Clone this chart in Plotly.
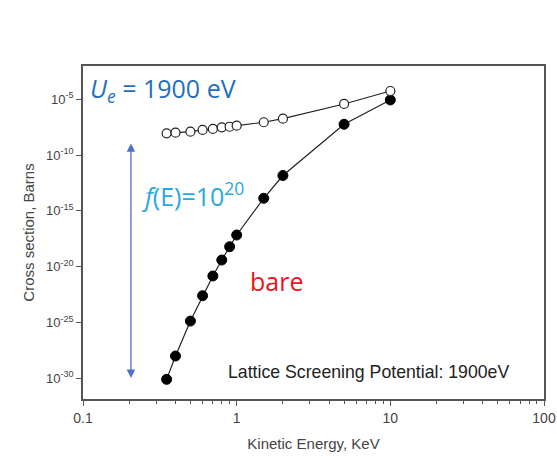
import plotly.graph_objects as go

energy = [0.35, 0.4, 0.5, 0.6, 0.7, 0.8, 0.9, 1.0, 1.5, 2.0, 5.0, 10.0]
screened_exp = [-8.05, -7.99, -7.90, -7.75, -7.66, -7.51, -7.46, -7.37, -7.06, -6.74, -5.42, -4.26]
bare_exp = [-30.09, -28.0, -24.87, -22.6, -20.83, -19.40, -18.21, -17.16, -13.87, -11.83, -7.24, -5.06]

screened = [10 ** e for e in screened_exp]
bare = [10 ** e for e in bare_exp]

y_tick_exp = [-5, -10, -15, -20, -25, -30]
y_tick_vals = [10 ** e for e in y_tick_exp]
y_tick_text = ["10<sup>%d</sup>" % e for e in y_tick_exp]
x_tick_vals = [0.1, 1, 10, 100]
x_tick_text = ["0.1", "1", "10", "100"]
x_minor_vals = [m * d for d in (0.1, 1, 10) for m in range(2, 10)]

fig = go.Figure()
fig.add_trace(go.Scatter(
    x=energy, y=bare, mode="lines+markers",
    line=dict(color="#222", width=1.2),
    marker=dict(symbol="circle", size=10, color="black", line=dict(color="black", width=1)),
    showlegend=False))
fig.add_trace(go.Scatter(
    x=energy, y=screened, mode="lines+markers",
    line=dict(color="#222", width=1.2),
    marker=dict(symbol="circle", size=9, color="white", line=dict(color="#222", width=1.2)),
    showlegend=False))

axis_col = "#555"
lab_font = "Liberation Sans, Arial"
fig.update_xaxes(
    type="log", range=[-1, 2], automargin=False,
    tickvals=x_tick_vals, ticktext=x_tick_text,
    ticks="outside", ticklen=5, tickwidth=1.2, tickcolor=axis_col,
    minor=dict(tickvals=x_minor_vals, ticks="outside", ticklen=3, tickwidth=1, tickcolor=axis_col),
    showline=True, linecolor=axis_col, linewidth=1.5, mirror=True,
    showgrid=False, zeroline=False,
    tickfont=dict(family=lab_font, size=14, color="#444"),
    title=dict(text="Kinetic Energy, KeV", font=dict(family=lab_font, size=15, color="#444"), standoff=14),
)
fig.update_yaxes(
    type="log", range=[-31.85, -2.02], automargin=False,
    tickvals=y_tick_vals, ticktext=y_tick_text,
    ticks="outside", ticklen=5, tickwidth=1.2, tickcolor=axis_col,
    showline=True, linecolor=axis_col, linewidth=1.5, mirror=True,
    showgrid=False, zeroline=False,
    tickfont=dict(family=lab_font, size=13, color="#444"),
    title=dict(text="Cross section, Barns", font=dict(family=lab_font, size=15, color="#444"), standoff=8),
)

ann_font = "Open Sans, Lato, sans-serif"
fig.add_annotation(xref="paper", yref="paper", x=0.01, y=0.93, xanchor="left", yanchor="middle",
                   text="<i>U</i><sub><i>e</i></sub> = 1900 eV", showarrow=False,
                   font=dict(family=ann_font, size=25, color="#1f6fbf"))
fig.add_annotation(xref="paper", yref="paper", x=0.124, y=0.615, xanchor="left", yanchor="middle",
                   text="<i>f</i>(E)=10<sup>20</sup>", showarrow=False,
                   font=dict(family=ann_font, size=25, color="#29a8e0"))
fig.add_annotation(xref="paper", yref="paper", x=0.358, y=0.355, xanchor="left", yanchor="middle",
                   text="bare", showarrow=False,
                   font=dict(family=ann_font, size=25, color="#e8141c"))
fig.add_annotation(xref="paper", yref="paper", x=0.31, y=0.082, xanchor="left", yanchor="middle",
                   text="Lattice Screening Potential: 1900eV", showarrow=False,
                   font=dict(family=lab_font, size=17.7, color="#222"))
# double-headed arrow
fig.add_annotation(xref="x domain", yref="y domain", axref="x domain", ayref="y domain",
                   x=0.104, y=0.063, ax=0.104, ay=0.772, text="", showarrow=True,
                   arrowside="end+start", arrowhead=2, arrowsize=1.3, arrowwidth=1.3,
                   arrowcolor="#4a72c8")

fig.update_layout(
    width=557, height=464,
    margin=dict(l=83, r=13, t=66, b=65, autoexpand=False),
    paper_bgcolor="white", plot_bgcolor="white",
)
fig.write_html("out.html", config={"displayModeBar": False},
               post_script="document.body.style.margin='0px';")
